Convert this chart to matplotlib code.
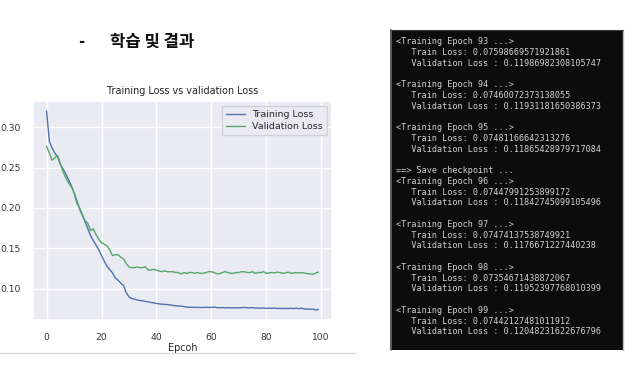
import matplotlib
matplotlib.use("Agg")
import matplotlib.pyplot as plt
import numpy as np
import seaborn as sns

sns.set_theme(style="darkgrid")
plt.rcParams['font.family'] = ['DejaVu Sans']

epochs = list(range(100))
train_loss = [
    0.320, 0.2825, 0.274, 0.268, 0.263, 0.254, 0.248, 0.242, 0.235, 0.2275,
    0.219, 0.209, 0.199, 0.191, 0.183, 0.1745, 0.166, 0.1595, 0.154, 0.148,
    0.141, 0.134, 0.1277, 0.1236, 0.1195, 0.1134, 0.1106, 0.107, 0.104, 0.095,
    0.090, 0.0878, 0.087, 0.0861, 0.0853, 0.085, 0.0842, 0.0837, 0.0829, 0.0825,
    0.0817, 0.0812, 0.0808, 0.0806, 0.0803, 0.0799, 0.0793, 0.0789, 0.0786, 0.0784,
    0.0778, 0.0772, 0.0770, 0.0770, 0.0768, 0.0769, 0.0767, 0.0768, 0.0769, 0.0768,
    0.0768, 0.0771, 0.0766, 0.0764, 0.0766, 0.0763, 0.0765, 0.0762, 0.0764, 0.0762,
    0.0763, 0.0765, 0.0768, 0.0764, 0.0762, 0.0766, 0.0760, 0.0761, 0.0758, 0.0762,
    0.0756, 0.0758, 0.0757, 0.0759, 0.0755, 0.0757, 0.0754, 0.0756, 0.0755, 0.0757,
    0.0754, 0.0759, 0.0752, 0.07599, 0.07460, 0.07481, 0.07448, 0.07474, 0.07355, 0.07442,
]
val_loss = [
    0.2764, 0.268, 0.259, 0.262, 0.265, 0.255, 0.245, 0.237, 0.231, 0.226,
    0.219, 0.206, 0.200, 0.192, 0.184, 0.181, 0.172, 0.174, 0.167, 0.161,
    0.157, 0.155, 0.153, 0.148, 0.141, 0.142, 0.142, 0.139, 0.137, 0.131,
    0.127, 0.126, 0.126, 0.127, 0.126, 0.126, 0.127, 0.123, 0.123, 0.124,
    0.123, 0.122, 0.121, 0.122, 0.121, 0.121, 0.121, 0.120, 0.120, 0.118,
    0.120, 0.119, 0.120, 0.120, 0.119, 0.120, 0.119, 0.119, 0.120, 0.121,
    0.121, 0.120, 0.1185, 0.1185, 0.120, 0.121, 0.120, 0.119, 0.119, 0.120,
    0.120, 0.121, 0.121, 0.120, 0.120, 0.121, 0.119, 0.120, 0.120, 0.121,
    0.119, 0.1195, 0.120, 0.1195, 0.1205, 0.120, 0.119, 0.1195, 0.1205, 0.119,
    0.1195, 0.120, 0.1195, 0.11987, 0.11931, 0.11865, 0.11843, 0.11767, 0.11952, 0.12048,
]

x_ticks = [0, 20, 40, 60, 80, 100]
y_ticks = [0.10, 0.15, 0.20, 0.25, 0.30]

log_lines = [
    "<Training Epoch 93 ...>",
    "   Train Loss: 0.07598669571921861",
    "   Validation Loss : 0.11986982308105747",
    "",
    "<Training Epoch 94 ...>",
    "   Train Loss: 0.07460072373138055",
    "   Validation Loss : 0.11931181650386373",
    "",
    "<Training Epoch 95 ...>",
    "   Train Loss: 0.07481166642313276",
    "   Validation Loss : 0.11865428979717084",
    "",
    "==> Save checkpoint ...",
    "<Training Epoch 96 ...>",
    "   Train Loss: 0.07447991253899172",
    "   Validation Loss : 0.11842745099105496",
    "",
    "<Training Epoch 97 ...>",
    "   Train Loss: 0.07474137538749921",
    "   Validation Loss : 0.1176671227440238",
    "",
    "<Training Epoch 98 ...>",
    "   Train Loss: 0.07354671438872067",
    "   Validation Loss : 0.11952397768010399",
    "",
    "<Training Epoch 99 ...>",
    "   Train Loss: 0.07442127481011912",
    "   Validation Loss : 0.12048231622676796",
]

W, H = 640, 368
fig = plt.figure(figsize=(6.4, 3.68), dpi=100)
fig.patch.set_facecolor("white")

# overlay axes in pixel coords
ov = fig.add_axes([0, 0, 1, 1], zorder=0)
ov.set_xlim(0, W)
ov.set_ylim(H, 0)
ov.axis("off")
ov.set_facecolor("none")

# slide title
ov.text(78, 42, "-", fontsize=12, fontweight="bold", color="#111111",
        ha="left", va="center", family=["Noto Sans CJK KR", "DejaVu Sans"])
ov.text(110, 42, "학습 및 결과", fontsize=12, fontweight="bold", color="#111111",
        ha="left", va="center", family=["Noto Sans CJK KR", "DejaVu Sans"])

# separator line under chart
ov.plot([0, 356], [353.3, 353.3], color="#dcdcdc", lw=1.0)

# terminal box
ov.add_patch(plt.Rectangle((390, 30), 233, 320, facecolor="#0c0c0c",
                           edgecolor="none"))
ov.plot([390.5, 390.5], [30, 350], color="#6a6a6a", lw=1.2)
ov.plot([622.5, 622.5], [30, 350], color="#bdbdbd", lw=1.0)
ov.plot([390, 623], [30.4, 30.4], color="#3a3a3a", lw=0.8)
for i, line in enumerate(log_lines):
    ov.text(396, 41.7 + 10.75 * i, line, fontsize=6.1, color="#d0d0d0",
            family="DejaVu Sans Mono", ha="left", va="center")

# chart
ax = fig.add_axes([33 / W, 1 - 320 / H, (332 - 33) / W, (320 - 101) / H], zorder=1)
ax.plot(epochs, train_loss, color="#4C72B0", lw=1.0, label="Training Loss")
ax.plot(epochs, val_loss, color="#55A868", lw=1.0, label="Validation Loss")
ax.set_xticks(x_ticks)
ax.set_yticks(y_ticks)
ax.set_yticklabels([f"{v:.2f}" for v in y_ticks])
ax.tick_params(labelsize=6.6, colors="#333333", pad=3)
ax.set_title("Training Loss vs validation Loss", fontsize=6.9, color="#222222", pad=5)
ax.set_xlabel("Epcoh", fontsize=6.9, color="#222222", labelpad=1)
leg = ax.legend(fontsize=6.8, loc="upper right", handlelength=2.0,
                borderpad=0.45, labelspacing=0.3, framealpha=0.8)

fig.savefig("out.png", dpi=100)
